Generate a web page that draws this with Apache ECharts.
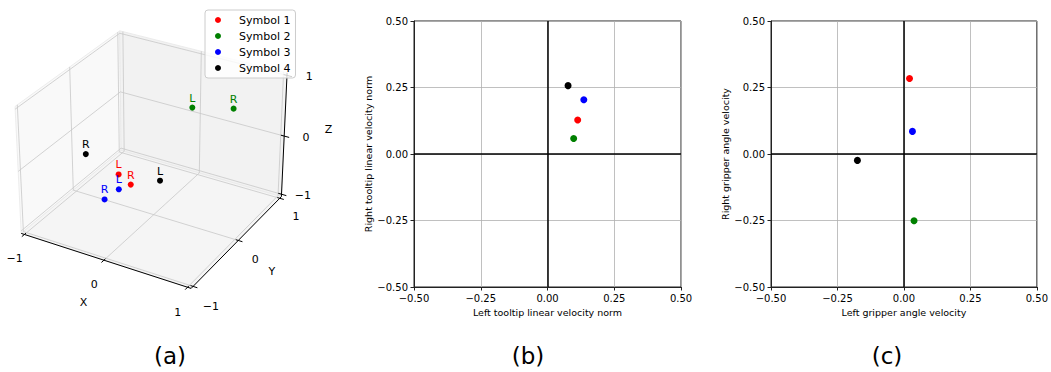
<!DOCTYPE html>
<html><head><meta charset="utf-8">
<script src="https://cdn.jsdelivr.net/npm/echarts@6/dist/echarts.min.js"></script>
<style>html,body{margin:0;padding:0;background:#fff}#c{width:1051px;height:372px}</style>
</head><body><div id="c"></div>
<script>
// ---------------- DATA ----------------
const symbols = ['Symbol 1', 'Symbol 2', 'Symbol 3', 'Symbol 4'];
// 3D panel (a): [x, y, z] of the left (L) and right (R) point of each symbol
const left3d  = [[-0.26, -0.3, -0.25], [0.30, 0.3, 0.67], [-0.26, -0.3, -0.50], [0.25, -0.3, -0.15]];
const right3d = [[-0.11, -0.3, -0.36], [0.79, 0.3, 0.83], [-0.38, -0.4, -0.65], [-0.67, -0.3, -0.07]];
const pointNames = ['L', 'R'];
// panel (b)
const tooltipLeft  = [0.113, 0.098, 0.136, 0.077];
const tooltipRight = [0.128, 0.058, 0.204, 0.257];
// panel (c)
const gripperLeft  = [0.021, 0.038, 0.032, -0.175];
const gripperRight = [0.284, -0.251, 0.085, -0.024];
// ticks
const ticks2d = [-0.5, -0.25, 0, 0.25, 0.5];
const ticks3d = [-1, 0, 1];
const axisNames3d = ['X', 'Y', 'Z'];
const captions = ['(a)', '(b)', '(c)'];
const axisNamesB = ['Left tooltip linear velocity norm', 'Right tooltip linear velocity norm'];
const axisNamesC = ['Left gripper angle velocity', 'Right gripper angle velocity'];

// ---------------- STYLE ----------------
const colors = ['#ff0000', '#008000', '#0000ff', '#000000'];
const FONT = 'DejaVu Sans';

// ---------------- 3D projection (matplotlib-like, elev 30, azim -60) ----------------
const ELEV = 30, AZIM = -60, DIST = 10;
const LIM = [ticks3d[0], ticks3d[ticks3d.length - 1]];
const aspect = (() => { const a = [4, 4, 3]; const n = Math.hypot(...a); return a.map(v => v * 1.8294640721620434 / n); })();
const er = ELEV * Math.PI / 180, ar = AZIM * Math.PI / 180;
const ps = [Math.cos(er) * Math.cos(ar), Math.cos(er) * Math.sin(ar), Math.sin(er)];
const Rc = aspect.map(v => v / 2);
const Eye = Rc.map((v, i) => v + DIST * ps[i]);
const cross = (a, b) => [a[1]*b[2]-a[2]*b[1], a[2]*b[0]-a[0]*b[2], a[0]*b[1]-a[1]*b[0]];
const dot = (a, b) => a[0]*b[0] + a[1]*b[1] + a[2]*b[2];
const norm = a => { const n = Math.hypot(...a); return a.map(v => v / n); };
const Wv = ps;
const Uv = norm(cross([0, 0, 1], Wv));
const Vv = cross(Wv, Uv);
function proj(p) {
  const wp = p.map((v, i) => (v - LIM[0]) / (LIM[1] - LIM[0]) * aspect[i]);
  const d = wp.map((v, i) => v - Eye[i]);
  const zv = dot(Wv, d);
  return [dot(Uv, d) / (-zv), dot(Vv, d) / (-zv)];
}
const pad3 = (LIM[1] - LIM[0]) / 48;
const lo = LIM[0] - pad3, hi = LIM[1] + pad3;
const fmt3 = v => (v < 0 ? '\u2212' : '') + Math.abs(v);

function frame3d(params, api) {
  const P = p => api.coord(proj(p));
  const ch = [];
  const poly = (pts, fill) => ch.push({ type: 'polygon', shape: { points: pts.map(P) }, style: { fill: fill, stroke: '#e8e8e8', lineWidth: 0.8 } });
  const line = (a, b, stroke, w) => { const p1 = P(a), p2 = P(b); ch.push({ type: 'line', shape: { x1: p1[0], y1: p1[1], x2: p2[0], y2: p2[1] }, style: { stroke: stroke, lineWidth: w } }); };
  const text = (p, s) => { const q = P(p); ch.push({ type: 'text', x: q[0], y: q[1], style: { text: s, fill: '#000', fontSize: 11, fontFamily: FONT, align: 'center', verticalAlign: 'middle' } }); };
  // panes
  poly([[lo, lo, lo], [lo, hi, lo], [lo, hi, hi], [lo, lo, hi]], '#f9f9f9');
  poly([[lo, hi, lo], [hi, hi, lo], [hi, hi, hi], [lo, hi, hi]], '#f2f2f2');
  poly([[lo, lo, lo], [hi, lo, lo], [hi, hi, lo], [lo, hi, lo]], '#f5f5f5');
  const gc = '#c8c8c8', gw = 0.8;
  ticks3d.forEach(t => {
    line([t, lo, lo], [t, hi, lo], gc, gw); line([t, hi, lo], [t, hi, hi], gc, gw);
    line([lo, t, lo], [hi, t, lo], gc, gw); line([lo, t, lo], [lo, t, hi], gc, gw);
    line([lo, lo, t], [lo, hi, t], gc, gw); line([lo, hi, t], [hi, hi, t], gc, gw);
  });
  // axis lines
  line([lo, lo, lo], [hi, lo, lo], '#000', 1);
  line([hi, lo, lo], [hi, hi, lo], '#000', 1);
  line([hi, hi, lo], [hi, hi, hi], '#000', 1);
  ticks3d.forEach(t => {
    line([t, lo - 0.05, lo], [t, lo + 0.03, lo], '#000', 1);
    line([hi + 0.05, t, lo], [hi - 0.03, t, lo], '#000', 1);
    line([hi + 0.06, hi, t], [hi - 0.04, hi, t], '#000', 1);
    text([t, lo - 0.2, lo - 0.26], fmt3(t));
    text([hi + 0.21, t, lo - 0.24], fmt3(t));
    text([hi + 0.22, hi + 0.09, t], fmt3(t));
  });
  text([0, lo - 0.415, lo - 0.39], axisNames3d[0]);
  text([hi + 0.41, 0, lo - 0.35], axisNames3d[1]);
  text([hi + 0.36, hi + 0.37, 0], axisNames3d[2]);
  return { type: 'group', children: ch };
}

// ---------------- 2D axes helpers ----------------
const fmt2 = v => (v < 0 ? '\u2212' : '') + Math.abs(v).toFixed(2);
function valAxis(gi, name, isY) {
  return {
    gridIndex: gi, type: 'value', min: ticks2d[0], max: ticks2d[ticks2d.length - 1], interval: 0.25,
    name: name, nameLocation: 'middle', nameGap: isY ? 40 : 19,
    nameTextStyle: { fontSize: 9.5, fontFamily: FONT, color: '#000' },
    axisLine: { show: true, onZero: false, lineStyle: { color: '#222', width: 1 } },
    axisTick: { show: true, inside: false, length: 3.5, lineStyle: { color: '#222', width: 1 } },
    axisLabel: { fontSize: 10, fontFamily: FONT, color: '#000', margin: 6, formatter: fmt2, showMinLabel: true, showMaxLabel: true },
    splitLine: { show: true, lineStyle: { color: '#b0b0b0', width: 0.8 } }
  };
}

const series = [];
// 3D frame
series.push({ type: 'custom', xAxisIndex: 0, yAxisIndex: 0, data: [[0, 0]], renderItem: frame3d, clip: false, silent: true, z: 1 });
symbols.forEach((s, i) => {
  series.push({
    type: 'scatter', name: s, xAxisIndex: 0, yAxisIndex: 0, symbolSize: 6, z: 5,
    itemStyle: { color: colors[i], opacity: 1 },
    label: { show: true, position: 'top', distance: 1, formatter: '{b}', color: colors[i], fontSize: 11, fontFamily: FONT },
    data: [left3d[i], right3d[i]].map((p, k) => ({ name: pointNames[k], value: proj(p) }))
  });
});
// zero lines
[1, 2].forEach(gi => {
  series.push({
    type: 'scatter', xAxisIndex: gi, yAxisIndex: gi, data: [], z: 2, silent: true,
    markLine: { silent: true, symbol: 'none', label: { show: false }, animation: false,
      lineStyle: { color: '#000', width: 1.5, type: 'solid' }, data: [{ xAxis: 0 }, { yAxis: 0 }] }
  });
});
symbols.forEach((s, i) => {
  series.push({ type: 'scatter', name: s, xAxisIndex: 1, yAxisIndex: 1, symbolSize: 7, z: 4,
    itemStyle: { color: colors[i], opacity: 1 }, data: [[tooltipLeft[i], tooltipRight[i]]] });
  series.push({ type: 'scatter', name: s, xAxisIndex: 2, yAxisIndex: 2, symbolSize: 7, z: 4,
    itemStyle: { color: colors[i], opacity: 1 }, data: [[gripperLeft[i], gripperRight[i]]] });
});

const option = {
  animation: false,
  backgroundColor: '#ffffff',
  grid: [
    { left: 0, top: 1.1, width: 307.4, height: 304.6 },
    { left: 414, top: 21, width: 267, height: 266, show: true, borderColor: '#222', borderWidth: 1, backgroundColor: 'transparent' },
    { left: 771, top: 21, width: 267, height: 266, show: true, borderColor: '#222', borderWidth: 1, backgroundColor: 'transparent' }
  ],
  xAxis: [
    { gridIndex: 0, type: 'value', min: -0.094, max: 0.094, show: false },
    valAxis(1, axisNamesB[0], false),
    valAxis(2, axisNamesC[0], false)
  ],
  yAxis: [
    { gridIndex: 0, type: 'value', min: -0.094, max: 0.094, show: false },
    valAxis(1, axisNamesB[1], true),
    valAxis(2, axisNamesC[1], true)
  ],
  legend: {
    data: symbols, orient: 'vertical', left: 205, top: 10, icon: 'circle',
    itemWidth: 10, itemHeight: 6, itemGap: 4, padding: [4, 5, 4, 10], selectedMode: false,
    backgroundColor: 'rgba(255,255,255,0.8)', borderColor: '#cccccc', borderWidth: 1, borderRadius: 3,
    textStyle: { fontSize: 11, fontFamily: FONT, color: '#000', padding: [0, 0, 0, 11], lineHeight: 12 }
  },
  graphic: captions.map((c, i) => ({
    type: 'text', x: [170, 528, 887][i], y: 356,
    style: { text: c, fontSize: 23, fontFamily: 'DejaVu Sans', fill: '#000', align: 'center', verticalAlign: 'middle' }
  })),
  series: series
};
const chart = echarts.init(document.getElementById('c'), null, { renderer: 'svg' });
chart.setOption(option);
</script></body></html>
